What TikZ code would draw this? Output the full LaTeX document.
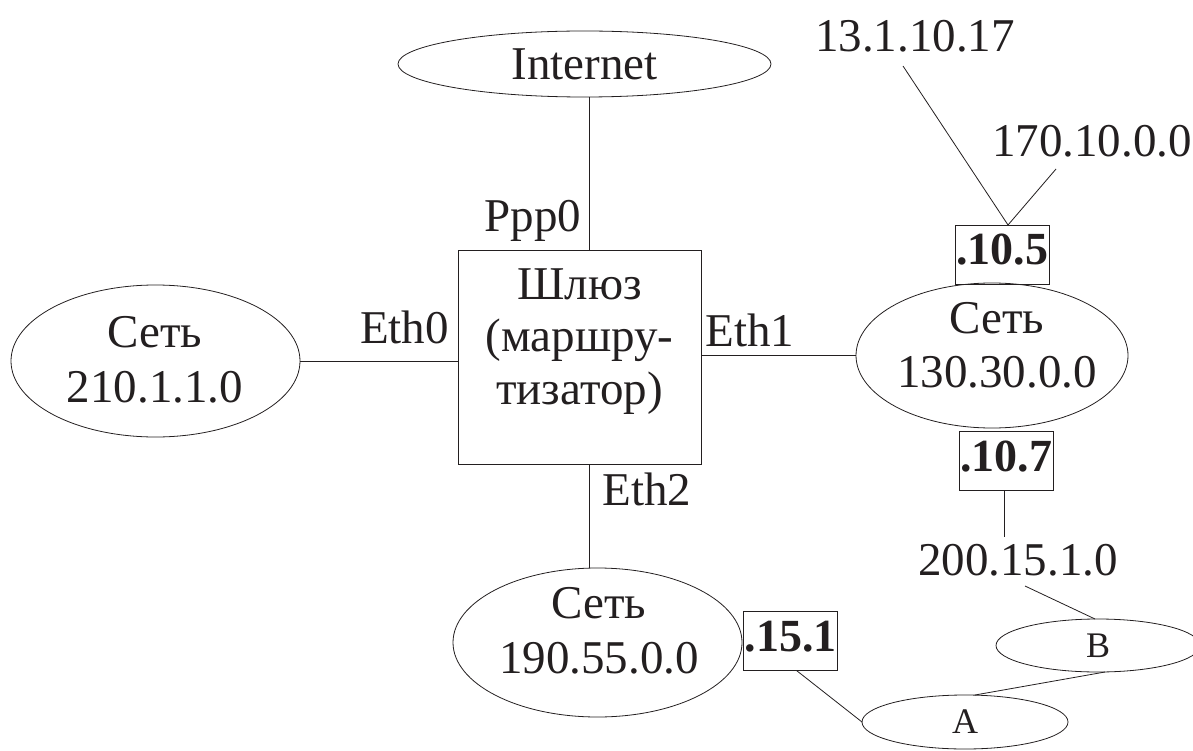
\documentclass[tikz,border=0pt]{standalone}
\usepackage{fontspec}
\setmainfont{Liberation Serif}
\usetikzlibrary{shapes.geometric}
\definecolor{ink}{RGB}{35,31,32}
\begin{document}
\begin{tikzpicture}[x=1pt,y=-1pt,
  link/.style={draw=ink, line width=0.8pt},
  ell/.style={ellipse, draw=ink, line width=0.8pt, inner sep=0pt, outer sep=0pt},
  bigtxt/.style={font=\fontsize{47}{55}\selectfont, text=ink},
  txt/.style={bigtxt, inner sep=0pt, anchor=base},
  smalltxt/.style={font=\fontsize{36}{40}\selectfont, text=ink},
  addr/.style={draw=ink, line width=0.8pt, font=\fontsize{46}{50}\selectfont\bfseries, text=ink,
    inner sep=0pt, outer sep=0pt, minimum width=94pt, minimum height=59pt, text height=31pt, text depth=10pt},
  gwbox/.style={draw=ink, line width=0.8pt, inner sep=0pt, outer sep=0pt, minimum width=243pt, minimum height=214pt}]
\useasboundingbox (0,0) rectangle (1193,751);

% main nodes
\node[ell, bigtxt, minimum width=373pt, minimum height=66pt] (inet) at (584.5,64) {Internet};
\node[gwbox] (gw) at (579.5,357) {};
\node[txt] (gw1) at (579.5,299) {Шлюз};
\node[txt] (gw2) at (579.5,351) {(маршру-};
\node[txt] (gw3) at (579.5,404) {тизатор)};

\node[ell, minimum width=289pt, minimum height=152pt] (s210) at (155.5,361) {};
\node[txt] (s210a) at (155,347) {Сеть};
\node[txt] (s210b) at (155,402) {210.1.1.0};

\node[ell, minimum width=272pt, minimum height=145pt] (s130) at (992,355.5) {};
\node[txt] (s130a) at (997,333) {Сеть};
\node[txt] (s130b) at (997,387) {130.30.0.0};

\node[ell, minimum width=289pt, minimum height=149pt] (s190) at (597.5,642.5) {};
\node[txt] (s190a) at (599,618) {Сеть};
\node[txt] (s190b) at (599,673) {190.55.0.0};

\node[ell, smalltxt, minimum width=204pt, minimum height=53pt] (B) at (1098,645.5) {B};
\node[ell, smalltxt, minimum width=206pt, minimum height=54pt] (A) at (965,722) {A};

\node[addr] (b105) at (1002,254.5) {.10.5};
\node[addr] (b107) at (1006,460.5) {.10.7};
\node[addr] (b151) at (790.5,641) {.15.1};

% interface labels
\node[txt] (ppp0) at (533,232) {Ppp0};
\node[txt] (eth0) at (404.5,343) {Eth0};
\node[txt] (eth1) at (750,346) {Eth1};
\node[txt] (eth2) at (647,505) {Eth2};

% address labels
\node[txt] (n13) at (915,52) {13.1.10.17};
\node[txt, anchor=base east] (n170) at (1192,157) {170.10.0.0};
\node[txt] (n200) at (1018,575) {200.15.1.0};

% free ends of connectors near the labels
\coordinate (c13) at (903,66);
\coordinate (c170) at (1056,169);
\coordinate (c200t) at (1004,537);
\coordinate (c200b) at (1025,586);

% connectors
\draw[link] ([xshift=4.5pt]inet.south) -- ([xshift=4.5pt]inet.south |- gw.north);
\draw[link] ([xshift=9.5pt]gw.south) -- ([xshift=9.5pt]gw.south |- s190.north);
\draw[link] (s210.east) -- (s210.east -| gw.west);
\draw[link] (gw.east |- s130.west) -- (s130.west);
\draw[link] (c13) -- ([xshift=6pt]b105.north);
\draw[link] (c170) -- ([xshift=6pt]b105.north);
\draw[link] ([xshift=-2pt]b107.south) -- (c200t);
\draw[link] (c200b) -- ([xshift=-3pt]B.north);
\draw[link] ([xshift=7pt]B.south) -- ([xshift=10pt]A.north);
\draw[link] ([xshift=6pt]b151.south) -- (A.west);
\end{tikzpicture}
\end{document}
